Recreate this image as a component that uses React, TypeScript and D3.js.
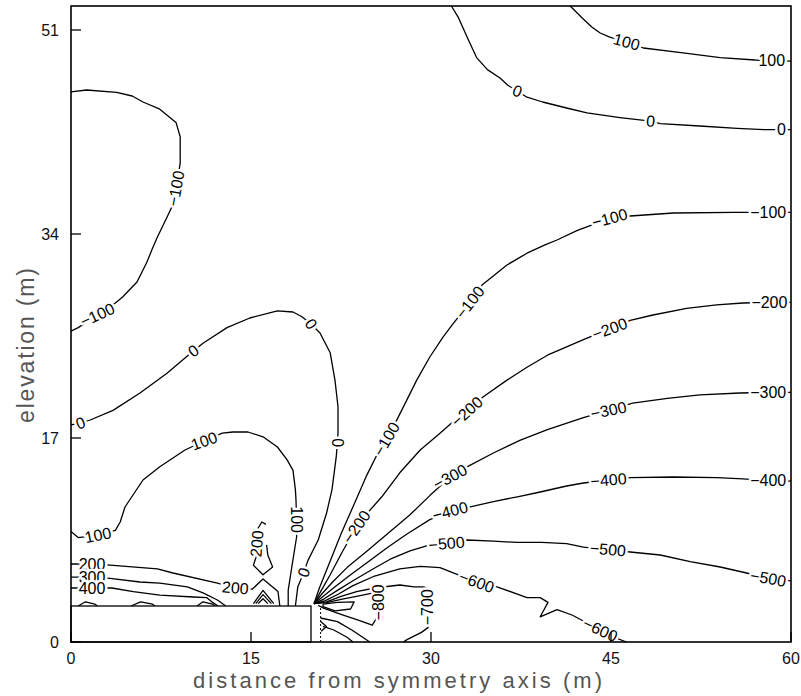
import React from 'react';
import * as d3 from 'd3';

// axis ticks
const xTicks = [0, 15, 30, 45, 60];
const yTicks = [0, 17, 34, 51];

// contour lines, [distance (m), elevation (m)]
const top100 = [[41.6,53],[42.6,52],[43.4,51.25],[44.1,50.75],[44.9,50.4],[46.3,50],[47.7,49.5],[51,49.1],[54.1,48.7],[57,48.5],[60,48.4]];
const top0 = [[31.7,53],[32.25,52.1],[33.1,50.2],[33.8,48.7],[34.7,47.7],[35.75,47],[36.4,46.4],[37.2,45.9],[38,45.4],[39.3,45],[41.3,44.5],[43,44.1],[44.3,43.9],[45.75,43.7],[48.3,43.4],[49.1,43.2],[52.4,43],[55.5,42.8],[57.8,42.7],[60,42.7]];
const loopNeg100 = [[0,45.85],[1.3,46],[3.8,45.8],[5.1,45.5],[6,45],[7.4,44.4],[8.75,43.3],[9.1,42.1],[9.1,39.9],[8.75,37.8],[8.4,36.25],[8,35.4],[7.2,33.75],[6.75,32.7],[6.3,31.6],[5.5,30],[4.3,28.75],[3.7,28.25],[2.2,27.25],[0.6,26.2],[0,25.9]];
const mid0 = [[0,18.1],[0.8,18.25],[1.6,18.5],[3.5,19.3],[5.75,20.75],[8,22.4],[9.3,23.5],[10.2,24.25],[11,24.9],[13,26.2],[14.9,27],[17.2,27.6],[18.5,27.5],[19.25,27.1],[20,26.5],[20.75,25.75],[21.6,24.1],[22,21.8],[22.25,19.6],[22.25,17.4],[22.2,16.6],[22.1,15.4],[21.75,12.7],[21.3,10.75],[20.6,8.5],[19.75,6.8],[19.4,5.8],[18.9,4.6],[18.7,3]];
const inner100 = [[0,9.2],[0.6,8.7],[2.25,8.9],[3.7,9.3],[4.1,10],[4.5,11.25],[6,13.5],[7.4,14.6],[9.5,16],[11.1,16.75],[12.6,17.4],[13.5,17.5],[14.75,17.5],[16,17.1],[17.2,16.25],[18,15.2],[18.5,14.3],[18.7,12.7],[18.75,11.8],[18.8,10.2],[18.8,8.75],[18.4,6.25],[18.1,4.3],[18.1,3]];
const left200 = [[0,6.5],[1.75,6.5],[3.25,6.4],[7.2,6.1],[8.5,5.75],[12.2,4.9],[13.7,4.5],[15.1,4.4],[16,5.25],[17.25,4.2],[17.4,3]];
const left300 = [[0,5.4],[1.75,5.4],[3.25,5.3],[5.75,5],[7.4,4.9],[9.7,4.6],[11,4.1],[12.2,3.5],[12.9,3]];
const left400 = [[0,4.5],[1.75,4.5],[3.4,4.5],[5.2,4.2],[7.4,3.9],[10.2,3.75],[11.3,3.7],[11.8,3.3],[12.25,3]];
const island200 = [[16.25,9.8],[15.9,10],[15.6,9.5],[15.5,8.2],[15.4,7],[15.2,6.4],[16,5.6],[16.8,6.25],[16.4,7.25],[16.3,8.1]];
const fanNeg100 = [[20.25,3.2],[20.7,4.5],[21.5,6.5],[22.5,9],[23.6,11.5],[24.6,13.8],[25.5,15.6],[26.3,16.9],[27.25,18.7],[28,20.2],[28.8,21.8],[29.9,23.75],[31,25.4],[31.75,26.4],[33.25,28.3],[34.25,29.75],[35.5,30.75],[36.3,31.4],[38,32.4],[39.5,33.1],[40.5,33.5],[42.2,34.3],[44.9,35.3],[46.6,35.5],[50.2,35.75],[55.2,35.8],[58.1,35.8],[60,35.8]];
const fanNeg200 = [[20.25,3.2],[20.8,4.2],[21.6,5.6],[22.6,7.5],[23.8,9.6],[24.75,10.8],[25.9,12.1],[27.4,14.1],[29.1,16],[30.75,17.4],[32,18.5],[33,19.2],[34.3,20.4],[36.3,21.8],[38,22.9],[39.7,23.9],[41.3,24.6],[42.7,25.2],[44.9,26.1],[46.6,26.8],[48.5,27.25],[51.3,27.8],[53.8,28.1],[56,28.25],[58.2,28.3],[60,28.3]];
const fanNeg300 = [[20.25,3.2],[20.9,4],[21.8,5],[23,6.2],[24.7,7.6],[26.6,9.2],[28.25,10.6],[29.9,12.2],[31.6,13.75],[33,14.6],[35.2,15.75],[37.4,16.8],[39.7,17.7],[42.7,18.7],[44.8,19.3],[46.8,19.9],[49.7,20.3],[52.4,20.6],[55.75,20.75],[58.1,20.8],[60,20.8]];
const fanNeg400 = [[20.25,3.2],[21,3.8],[22,4.6],[23.3,5.6],[24.8,6.7],[26.4,7.9],[28,9],[29.9,10.2],[31.6,10.9],[33,11.2],[35.2,11.7],[37.2,12.1],[39.1,12.5],[41.3,13],[42.7,13.25],[44.8,13.5],[46.6,13.7],[50.2,13.75],[53.8,13.7],[56,13.6],[58.1,13.45],[60,13.4]];
const fanNeg500 = [[20.25,3.2],[21.1,3.6],[22.2,4.3],[23.5,5.1],[25.2,6.1],[26.6,6.9],[28.25,7.6],[29.9,8.1],[31.3,8.2],[33,8.5],[35.2,8.4],[37.2,8.3],[39.25,8.3],[41.3,8.2],[42.7,7.9],[44.75,7.7],[46.6,7.5],[49.1,7.25],[51.6,6.7],[54.1,6.25],[56.3,5.75],[58.1,5.3],[60,5.1]];
const fanNeg600 = [[20.25,3.2],[21.2,3.45],[22.3,4],[23.5,4.7],[25.3,5.5],[27.4,6.1],[29.1,6.3],[30.75,6.2],[31.75,5.8],[33.8,5],[35.5,4.6],[38,3.7],[39.1,3.7],[39.75,3.3],[39.1,2.1],[40.5,2.7],[41.75,2.25],[44.1,1],[45.2,0.4],[46.3,0]];
const fanNeg700 = [[20.25,3.2],[21.3,3.35],[22.5,3.8],[23.8,4.2],[25.3,4.5],[27.4,4.75],[28.6,4.6],[29.4,4.6],[29.75,4.4],[29.75,2.9],[29.75,1.2],[29.2,0.8],[28,0.2],[27.7,0]];
const fanNeg800 = [[20.25,3.2],[21.3,3.28],[22.5,3.55],[24,3.85],[25.2,4.1],[25.6,3.8],[25.6,2.2],[25.1,1.4],[24,1.8],[22.5,2.3],[21.1,2.8],[20.6,3.05]];
const small900 = [[21,3.15],[22.2,3.3],[23.6,3.35],[23.3,2.75],[22,2.6],[21,2.95],[21,3.15]];
const bottomA = [[20.8,2],[22.2,1.7],[23.4,1],[24.9,0]];
const bottomB = [[21,1.3],[21.9,1],[23,0.4],[23.5,0]];
const zig = [[20.8,1.7],[21.3,1.3],[20.85,0.9]];
const chevA = [[0.6,3],[1.2,3.35],[2,3.15],[2.2,3]];
const chevB = [[5,3],[5.8,3.35],[6.8,3.15],[7,3]];
const chevC = [[10.5,3],[11,3.35],[11.8,3.15],[12,3]];
const nestA = [[15.2,3.2],[16,4.3],[16.9,3.2]];
const nestB = [[15.4,3.2],[16,3.95],[16.7,3.2]];
const nestC = [[15.6,3.2],[16,3.6],[16.4,3.2]];

const contours = [top100, top0, loopNeg100, mid0, inner100, left200, left300, left400, island200,
  fanNeg100, fanNeg200, fanNeg300, fanNeg400, fanNeg500, fanNeg600, fanNeg700, fanNeg800, small900,
  bottomA, bottomB, zig, chevA, chevB, chevC, nestA, nestB, nestC];

// contour labels: text, x, y, angle
const labels: [string, number, number, number][] = [
  ['100', 46.3, 50.0, 15], ['100', 58.4, 48.5, 0],
  ['0', 37.2, 45.9, 20], ['0', 48.3, 43.4, 5], ['0', 59.2, 42.7, 0],
  ['\u2212100', 8.75, 37.8, -80], ['\u2212100', 2.2, 27.25, -25],
  ['0', 0.8, 18.25, -20], ['0', 10.2, 24.25, -35], ['0', 20.0, 26.5, 55], ['0', 22.2, 16.6, 90], ['0', 19.4, 5.8, -70],
  ['100', 2.25, 8.9, -12], ['100', 11.1, 16.75, -20], ['100', 18.8, 10.2, 90],
  ['\u2212100', 26.3, 16.9, -60], ['\u2212100', 33.25, 28.3, -52], ['\u2212100', 44.9, 35.3, -15], ['\u2212100', 58.1, 35.8, 0],
  ['\u2212200', 23.8, 9.6, -55], ['\u2212200', 33.0, 19.2, -42], ['\u2212200', 44.9, 26.1, -20], ['\u2212200', 58.2, 28.3, 0],
  ['\u2212300', 31.6, 13.75, -28], ['\u2212300', 44.8, 19.3, -12], ['\u2212300', 58.1, 20.8, 0],
  ['\u2212400', 31.6, 10.9, -15], ['\u2212400', 44.8, 13.5, -5], ['\u2212400', 58.1, 13.45, 0],
  ['\u2212500', 31.3, 8.2, -5], ['\u2212500', 44.75, 7.7, 5], ['\u2212500', 58.1, 5.3, 10],
  ['\u2212600', 33.8, 5.0, 20], ['\u2212600', 44.1, 1.0, 25],
  ['\u2212700', 29.75, 2.9, -90], ['\u2212800', 25.6, 3.3, -90],
  ['200', 1.75, 6.5, 0], ['300', 1.75, 5.4, 0], ['400', 1.75, 4.5, 0],
  ['200', 13.7, 4.5, 5], ['200', 15.5, 8.2, -85],
];

// impermeable block and the dotted boundary next to it
const block = { x0: 0, x1: 20, y0: 0, y1: 3 };
const dotted = [[20.8, 0], [20.8, 3]];

const W = 801, H = 696;
const font = '"Liberation Sans", Arial, sans-serif';

export default function App() {
  const x = d3.scaleLinear().domain([0, 60]).range([71, 791]);
  const y = d3.scaleLinear().domain([0, 53]).range([642, 6]);
  const line = d3.line<number[]>().x(d => x(d[0])).y(d => y(d[1]));

  return (
    <svg width={W} height={H} style={{ position: 'absolute', left: 0, top: 0, background: '#fff' }} fontFamily={font}>
      <g fill="none" stroke="#000" strokeWidth={1.3} strokeLinejoin="round">
        {contours.map((c, i) => <path key={i} d={line(c) || ''} />)}
      </g>
      <g fontSize={16} textAnchor="middle" dominantBaseline="central">
        {labels.map(([t, lx, ly, a], i) => (
          <text key={i} x={x(lx)} y={y(ly)} transform={`rotate(${a},${x(lx)},${y(ly)})`}
            fill="#000" stroke="#fff" strokeWidth={5} strokeLinejoin="round" paintOrder="stroke">{t}</text>
        ))}
      </g>
      <rect x={x(block.x0)} y={y(block.y1)} width={x(block.x1) - x(block.x0)} height={y(block.y0) - y(block.y1)}
        fill="#fff" stroke="#000" strokeWidth={1.3} />
      <path d={line(dotted) || ''} stroke="#000" strokeWidth={1} strokeDasharray="2,2" fill="none" />
      <rect x={x(0)} y={y(53)} width={x(60) - x(0)} height={y(0) - y(53)} fill="none" stroke="#000" strokeWidth={1.6} />
      <g stroke="#000" strokeWidth={1.3}>
        {xTicks.map(t => <line key={t} x1={x(t)} x2={x(t)} y1={y(0)} y2={y(0) - 10} />)}
        {yTicks.map(t => <line key={t} x1={x(0)} x2={x(0) + 10} y1={y(t)} y2={y(t)} />)}
      </g>
      <g fontSize={16} fill="#111">
        {xTicks.map(t => <text key={t} x={x(t)} y={664} textAnchor="middle">{t}</text>)}
        {yTicks.map(t => <text key={t} x={59} y={y(t)} textAnchor="end" dominantBaseline="central">{t}</text>)}
      </g>
      <text x={193} y={688} fontSize={22} fill="#555" textLength={409} lengthAdjust="spacing">distance from symmetry axis (m)</text>
      <text transform="translate(34,345.5) rotate(-90)" fontSize={23} fill="#555" textAnchor="middle"
        textLength={155} lengthAdjust="spacing">elevation (m)</text>
    </svg>
  );
}
